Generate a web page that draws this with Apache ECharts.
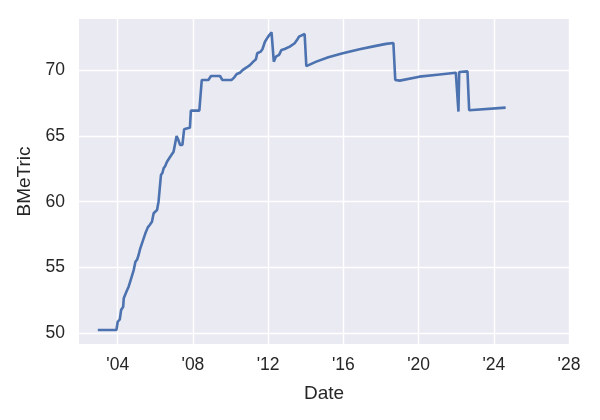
<!DOCTYPE html>
<html>
<head>
<meta charset="utf-8">
<script src="https://cdn.jsdelivr.net/npm/echarts@6/dist/echarts.min.js"></script>
<style>html,body{margin:0;padding:0;background:#fff}#c{width:600px;height:420px}</style>
</head>
<body>
<div id="c"></div>
<script>
// Decimal years (Date) and BMeTric values
var dates = [2002.94, 2003.93, 2004.0, 2004.11, 2004.18, 2004.29, 2004.32, 2004.46, 2004.58, 2004.72, 2004.85, 2004.94, 2005.03, 2005.11, 2005.2, 2005.33, 2005.47, 2005.6, 2005.7, 2005.82, 2005.91, 2006.09, 2006.17, 2006.25, 2006.3, 2006.38, 2006.44, 2006.52, 2006.62, 2006.79, 2006.97, 2007.06, 2007.13, 2007.22, 2007.32, 2007.44, 2007.53, 2007.71, 2007.84, 2007.89, 2008.34, 2008.47, 2008.82, 2008.96, 2009.44, 2009.56, 2010.06, 2010.2, 2010.33, 2010.5, 2010.64, 2010.85, 2011.03, 2011.21, 2011.35, 2011.42, 2011.6, 2011.7, 2011.83, 2012.0, 2012.18, 2012.3, 2012.41, 2012.58, 2012.71, 2012.88, 2013.15, 2013.41, 2013.54, 2013.64, 2013.94, 2014.03, 2014.56, 2015.2, 2015.97, 2016.86, 2017.6, 2018.27, 2018.66, 2018.76, 2019.0, 2020.04, 2021.0, 2021.98, 2022.08, 2022.12, 2022.16, 2022.6, 2022.69, 2024.63];
var values = [50.25, 50.25, 50.88, 51.06, 51.77, 52.02, 52.66, 53.16, 53.54, 54.2, 54.81, 55.44, 55.6, 55.95, 56.46, 57.0, 57.6, 58.05, 58.23, 58.48, 59.12, 59.37, 60.0, 60.0, 62.03, 62.2, 62.54, 62.7, 63.04, 63.42, 63.8, 63.85, 65.0, 64.7, 64.31, 64.31, 65.5, 65.58, 65.62, 66.92, 66.92, 69.25, 69.25, 69.55, 69.55, 69.25, 69.25, 69.45, 69.7, 69.8, 70.0, 70.2, 70.38, 70.64, 70.82, 71.28, 71.4, 71.6, 72.15, 72.54, 72.87, 70.64, 71.02, 71.15, 71.53, 71.6, 71.78, 72.04, 72.3, 72.54, 72.74, 70.3, 70.64, 70.98, 71.28, 71.58, 71.8, 71.99, 72.06, 69.25, 69.2, 69.5, 69.65, 69.8, 69.8, 66.85, 69.85, 69.9, 66.95, 67.15];
var xTicks = [2004, 2008, 2012, 2016, 2020, 2024, 2028];
var yTicks = [50, 55, 60, 65, 70];
var xName = 'Date';
var yName = 'BMeTric';

var points = dates.map(function (d, i) { return [d, values[i]]; });
var txt = '#262626';
var font = 'Liberation Sans, Arial, sans-serif';
var chart = echarts.init(document.getElementById('c'), null, {renderer: 'canvas'});
chart.setOption({
  animation: false,
  backgroundColor: '#ffffff',
  grid: {left: 79, right: 31, top: 19, bottom: 76, show: true, backgroundColor: '#EAEAF2', borderWidth: 0},
  xAxis: {
    type: 'value', min: 2001.94, max: 2028,
    name: xName, nameLocation: 'middle', nameGap: 40,
    nameTextStyle: {color: txt, fontSize: 19, fontFamily: font},
    axisLine: {show: false},
    axisTick: {show: false, customValues: xTicks},
    axisLabel: {customValues: xTicks, color: txt, fontSize: 17.5, fontFamily: font, margin: 12,
      formatter: function (v) { return "'" + String(Math.round(v)).slice(2); }},
    splitLine: {show: true, lineStyle: {color: '#ffffff', width: 1.4}}
  },
  yAxis: {
    type: 'value', min: 49.19, max: 73.88,
    name: yName, nameLocation: 'middle', nameGap: 37, nameRotate: 90,
    nameTextStyle: {color: txt, fontSize: 19, fontFamily: font},
    axisLine: {show: false},
    axisTick: {show: false, customValues: yTicks},
    axisLabel: {customValues: yTicks, color: txt, fontSize: 17.5, fontFamily: font, margin: 14},
    splitLine: {show: true, lineStyle: {color: '#ffffff', width: 1.4}}
  },
  series: [{
    type: 'line', data: points, showSymbol: false, symbol: 'none',
    lineStyle: {color: '#4C72B0', width: 2.6}
  }]
});
</script>
</body>
</html>
